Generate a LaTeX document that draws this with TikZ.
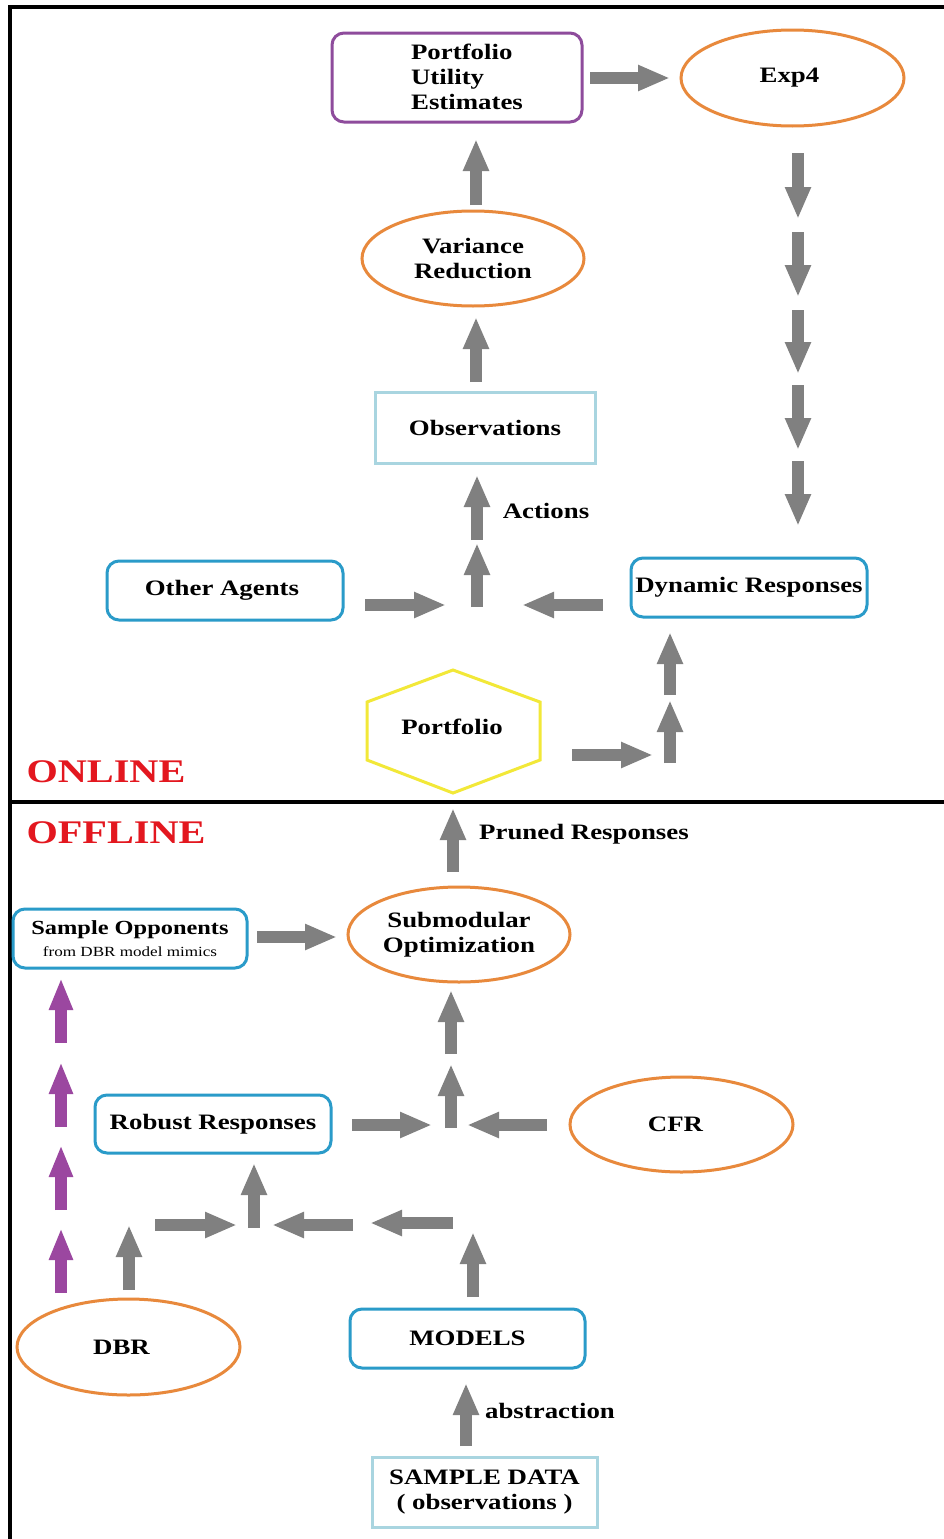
\documentclass[tikz,border=0pt]{standalone}
\usepackage{fontspec}
\setmainfont{Liberation Serif}[FakeStretch=1.22]
\usetikzlibrary{arrows.meta,shapes.geometric}
\definecolor{boxblue}{HTML}{2A9BC9}
\definecolor{lightblue}{HTML}{A9D5E0}
\definecolor{ellorange}{HTML}{E8893C}
\definecolor{boxpurple}{HTML}{8E4C9C}
\definecolor{arrpurple}{HTML}{9B47A0}
\definecolor{arrgray}{HTML}{808080}
\definecolor{hexyellow}{HTML}{F2E838}
\definecolor{labred}{HTML}{E3171F}
\tikzset{
  txt/.style={font=\bfseries\fontsize{22}{25}\selectfont, align=center, inner sep=0pt},
  rbox/.style={txt, draw=boxblue, line width=3pt, rounded corners=12pt},
  sbox/.style={txt, draw=lightblue, line width=3pt},
  oell/.style={txt, ellipse, draw=ellorange, line width=3pt},
  garrow/.style={line width=12pt, draw=arrgray, -{Triangle[width=24pt,length=32pt]}},
  parrow/.style={line width=12pt, draw=arrpurple, -{Triangle[width=22pt,length=32pt]}},
  biglab/.style={font=\bfseries\fontsize{33}{36}\selectfont, text=labred, inner sep=0pt},
  frameline/.style={line width=4pt, black}
}
\begin{document}
\begin{tikzpicture}[x=1pt,y=-1pt]
\useasboundingbox (0,0) rectangle (944,1539);
\fill[white] (0,0) rectangle (944,1539);
% frame
\coordinate (ftl) at (10,7);
\coordinate (ftr) at (944,7);
\coordinate (fbl) at (10,1539);
\coordinate (fml) at (10,802);
\coordinate (fmr) at (944,802);
\draw[frameline] (ftr) -- (ftl) -- (fbl);
\draw[frameline] (fml) -- (fmr);

% ---------- ONLINE ----------
\node[rbox, draw=boxpurple, minimum width=250pt, minimum height=89pt,
      label={[txt, align=left, xshift=10pt, yshift=1pt]center:Portfolio\\Utility\\Estimates}] (pue) at (457,77.5) {};
\node[oell, minimum width=223pt, minimum height=96pt] (exp4) at (792.5,78) {Exp4\hspace*{6pt}};
\node[oell, minimum width=222pt, minimum height=95pt] (vr) at (473,258.5) {Variance\\Reduction};
\node[sbox, minimum width=220pt, minimum height=71pt] (obs) at (485,427.5) {Observations};
\node[rbox, minimum width=236pt, minimum height=59pt] (oa) at (225,590.5) {Other Agents\hspace*{6pt}};
\node[rbox, minimum width=236pt, minimum height=59pt] (dr) at (749,587.5) {Dynamic Responses};
\draw[hexyellow, line width=3pt] (453,670) -- (540,702) -- (540,760) -- (453,793) -- (367,760) -- (367,702) -- cycle;
\node[txt] (pf) at (452,727) {Portfolio};
\node[txt] (act) at (546,511) {Actions};
\node[biglab] (online) at (106,772) {ONLINE};

% arrows online
\coordinate (a1s) at (590,78);  \coordinate (a1e) at (670,78);
\draw[garrow] (a1s) -- (a1e);
\foreach \s/\e [count=\i] in {153/219,232/297,310/374,385/450,461/526}{
  \coordinate (d\i s) at (798,\s); \coordinate (d\i e) at (798,\e);
  \draw[garrow] (d\i s) -- (d\i e);
}
\coordinate (a2s) at (476,205); \coordinate (a2e) at (476,139);
\draw[garrow] (a2s) -- (a2e);
\coordinate (a3s) at (476,382); \coordinate (a3e) at (476,317);
\draw[garrow] (a3s) -- (a3e);
\coordinate (a4s) at (477,540); \coordinate (a4e) at (477,475);
\draw[garrow] (a4s) -- (a4e);
\coordinate (a5s) at (477,607); \coordinate (a5e) at (477,543);
\draw[garrow] (a5s) -- (a5e);
\coordinate (a6s) at (365,605); \coordinate (a6e) at (446,605);
\draw[garrow] (a6s) -- (a6e);
\coordinate (a7s) at (603,605); \coordinate (a7e) at (522,605);
\draw[garrow] (a7s) -- (a7e);
\coordinate (a8s) at (572,755); \coordinate (a8e) at (653,755);
\draw[garrow] (a8s) -- (a8e);
\coordinate (a9s) at (670,763); \coordinate (a9e) at (670,700);
\draw[garrow] (a9s) -- (a9e);
\coordinate (a10s) at (670,695); \coordinate (a10e) at (670,632);
\draw[garrow] (a10s) -- (a10e);

% ---------- OFFLINE ----------
\node[biglab] (offline) at (116,833) {OFFLINE};
\node[txt] (pruned) at (584,834) {Pruned Responses};
\node[oell, minimum width=222pt, minimum height=95pt] (subopt) at (459,934.5) {Submodular\\Optimization};
\node[rbox, minimum width=234pt, minimum height=59pt] (so) at (130,938.5)
  {{\fontsize{20}{22}\selectfont Sample Opponents}\\[-3pt]{\mdseries\fontsize{14}{16}\selectfont from DBR model mimics}};
\node[rbox, minimum width=236pt, minimum height=58pt] (rr) at (213,1124) {Robust Responses};
\node[oell, minimum width=223pt, minimum height=95pt] (cfr) at (681.5,1124.5) {CFR\hspace*{12pt}};
\node[oell, minimum width=223pt, minimum height=96pt] (dbr) at (128.5,1347) {DBR\hspace*{14pt}};
\node[rbox, minimum width=235pt, minimum height=59pt] (models) at (467.5,1338.5) {MODELS};
\node[sbox, minimum width=225pt, minimum height=70pt] (sd) at (484.5,1492) {SAMPLE DATA\\( observations )};
\node[txt] (abs) at (550,1411) {abstraction};

\coordinate (b1s) at (453,872); \coordinate (b1e) at (453,808);
\draw[garrow] (b1s) -- (b1e);
\coordinate (b2s) at (257,937); \coordinate (b2e) at (337,937);
\draw[garrow] (b2s) -- (b2e);
\coordinate (b3s) at (451,1054); \coordinate (b3e) at (451,990);
\draw[garrow] (b3s) -- (b3e);
\coordinate (b4s) at (451,1128); \coordinate (b4e) at (451,1064);
\draw[garrow] (b4s) -- (b4e);
\coordinate (b5s) at (352,1125); \coordinate (b5e) at (432,1125);
\draw[garrow] (b5s) -- (b5e);
\coordinate (b6s) at (547,1125); \coordinate (b6e) at (467,1125);
\draw[garrow] (b6s) -- (b6e);
\foreach \s/\e [count=\i] in {1043/978,1127/1062,1210/1145,1293/1228}{
  \coordinate (p\i s) at (61,\s); \coordinate (p\i e) at (61,\e);
  \draw[parrow] (p\i s) -- (p\i e);
}
\coordinate (b7s) at (254,1228); \coordinate (b7e) at (254,1163);
\draw[garrow] (b7s) -- (b7e);
\coordinate (b8s) at (155,1225); \coordinate (b8e) at (237,1225);
\draw[garrow] (b8s) -- (b8e);
\coordinate (b9s) at (353,1225); \coordinate (b9e) at (272,1225);
\draw[garrow] (b9s) -- (b9e);
\coordinate (b10s) at (453,1223); \coordinate (b10e) at (370,1223);
\draw[garrow] (b10s) -- (b10e);
\coordinate (b11s) at (129,1290); \coordinate (b11e) at (129,1225);
\draw[garrow] (b11s) -- (b11e);
\coordinate (b12s) at (473,1297); \coordinate (b12e) at (473,1232);
\draw[garrow] (b12s) -- (b12e);
\coordinate (b13s) at (466,1446); \coordinate (b13e) at (466,1383);
\draw[garrow] (b13s) -- (b13e);
\end{tikzpicture}
\end{document}
